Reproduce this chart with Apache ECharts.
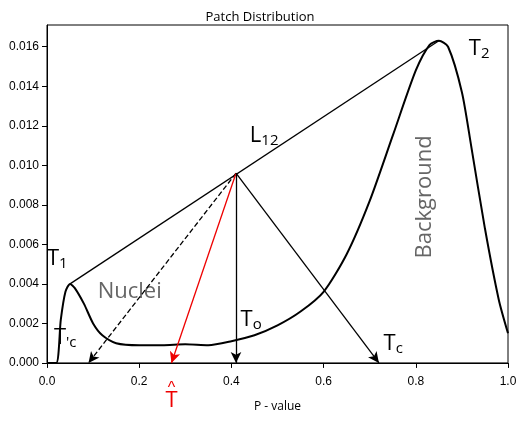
<!DOCTYPE html><html><head><script src="https://cdn.jsdelivr.net/npm/echarts@6/dist/echarts.min.js"></script></head><body style="margin:0"><div id="c" style="width:520px;height:421px"></div><script>
const curveX=[0.0,0.02,0.03,0.04,0.05,0.06,0.08,0.1,0.12,0.15,0.2,0.25,0.3,0.35,0.4,0.45,0.5,0.55,0.6,0.65,0.7,0.75,0.8,0.83,0.85,0.87,0.9,0.92,0.95,0.98,1.0];
const curveY=[0,0,0.0022,0.0036,0.004,0.0038,0.003,0.002,0.0014,0.001,0.0009,0.0009,0.00095,0.0009,0.0011,0.0014,0.0019,0.0026,0.0036,0.0055,0.0082,0.0115,0.0148,0.0161,0.0163,0.0160,0.0137,0.011,0.0068,0.0032,0.0015];
const apex=[0.41,0.0096];
const arrowEnds=[[0.09,'dashed','#000'],[0.27,'solid','#e00'],[0.41,'solid','#000'],[0.72,'solid','#000']];
const L12=[[0.05,0.004],[0.85,0.0163]];
const ch=echarts.init(document.getElementById('c'));
const series=[{type:'line',data:curveX.map((x,i)=>[x,curveY[i]]),smooth:0.25,symbol:'none',lineStyle:{color:'#000',width:2},
markLine:{silent:true,symbol:['none','arrow'],symbolSize:[8,11],label:{show:false},
data:arrowEnds.map(a=>[{coord:apex,lineStyle:{color:a[2],type:a[1],width:1.3}},{coord:[a[0],0]}])}},
{type:'line',data:L12,symbol:'none',lineStyle:{color:'#000',width:1.3}}];
ch.setOption({animation:false,
title:{text:'Patch Distribution',left:'center',top:2,textStyle:{fontSize:13,fontWeight:'normal',fontFamily:'Open Sans',color:'#000'}},
grid:{left:47,right:12,top:25,bottom:47,show:true,borderColor:'#000',borderWidth:1},
xAxis:{type:'value',min:0,max:1,interval:0.2,name:'P - value',nameLocation:'middle',nameGap:24,nameTextStyle:{color:'#000',fontSize:12,fontFamily:'Open Sans'},axisLine:{lineStyle:{color:'#000'}},axisTick:{lineStyle:{color:'#000'}},splitLine:{show:false},axisLabel:{color:'#000',fontSize:12,formatter:v=>v.toFixed(1)}},
yAxis:{type:'value',min:0,max:0.0171,interval:0.002,axisLine:{show:true,lineStyle:{color:'#000'}},axisTick:{show:true,lineStyle:{color:'#000'}},splitLine:{show:false},axisLabel:{color:'#000',fontSize:12,showMaxLabel:false,formatter:v=>v.toFixed(3)}},
series:series});
const labels=[
[0.0,0.0062,'{m|T}{s|1}','#000',0],
[0.915,0.0168,'{m|T}{s|2}','#000',0],
[0.44,0.0124,'{m|L}{s|12}','#000',0],
[0.015,0.0022,"{m|T}{s|'c}",'#000',0],
[0.42,0.0031,'{m|T}{s|o}','#000',0],
[0.73,0.0019,'{m|T}{s|c}','#000',0],
[0.11,0.0045,'{g|Nuclei}','#666',0],
[0.82,0.0084,'{g|Background}','#666',90]];
const g=labels.map(l=>{const p=ch.convertToPixel({gridIndex:0},[l[0],l[1]]);return {type:'text',x:p[0],y:p[1],rotation:l[4]*Math.PI/180,style:{text:l[2],fill:l[3],align:l[4]?'center':'left',verticalAlign:l[4]?'middle':'top',rich:{m:{fontSize:22,fill:'#000',fontFamily:'Open Sans'},s:{fontSize:15,fill:'#000',fontFamily:'Open Sans',padding:[10,0,0,0]},g:{fontSize:22,fill:'#666',fontFamily:'Open Sans'}}}}});
const th=ch.convertToPixel({gridIndex:0},[0.27,0]);
g.push({type:'text',x:th[0],y:th[1]+20,style:{text:'T',fill:'#e00',fontSize:22,align:'center',verticalAlign:'top',fontFamily:'Open Sans'}});
g.push({type:'text',x:th[0],y:th[1]+12,style:{text:'^',fill:'#e00',fontSize:16,align:'center',verticalAlign:'top'}});
ch.setOption({graphic:g});
</script></body></html>
